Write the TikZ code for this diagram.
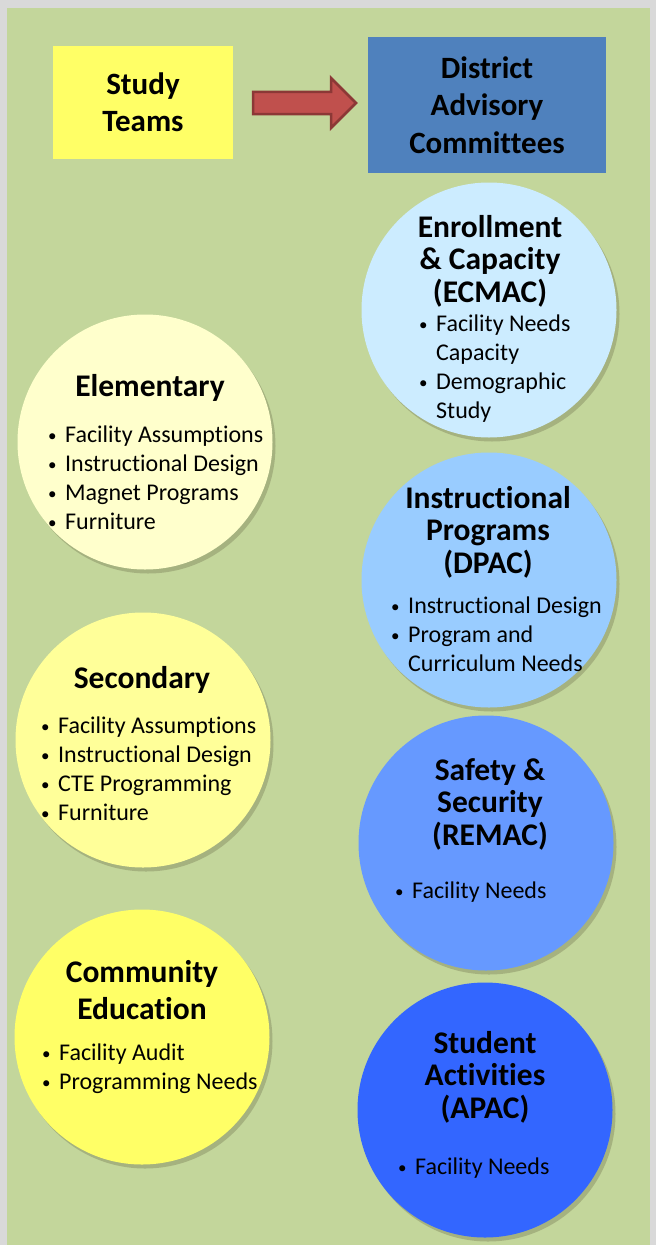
\documentclass[tikz,border=0pt]{standalone}
\usepackage{fontspec}
\setmainfont[Ligatures=NoCommon]{Carlito}
\usepackage{tikz}
\usetikzlibrary{shapes.arrows,shadows,positioning}
\definecolor{outergray}{HTML}{D9D9D9}
\definecolor{panelgreen}{HTML}{C3D69B}
\definecolor{teamyellow}{HTML}{FFFF66}
\definecolor{districtblue}{HTML}{4F81BD}
\definecolor{arrowred}{HTML}{C0504D}
\definecolor{arrowdark}{HTML}{8C3836}
\definecolor{elemfill}{HTML}{FFFFCC}
\definecolor{secfill}{HTML}{FFFF99}
\definecolor{commfill}{HTML}{FFFF66}
\definecolor{ecmacfill}{HTML}{CCECFF}
\definecolor{dpacfill}{HTML}{99CCFF}
\definecolor{remacfill}{HTML}{6699FF}
\definecolor{apacfill}{HTML}{3366FF}
\tikzset{
    %Define style for the two top boxes
    headbox/.style={
           rectangle,
           inner sep=0pt,
           font=\fontsize{31}{37.5}\selectfont\bfseries,
           align=center},
    %Define style for circles
    teamcirc/.style={
           circle,
           inner sep=0pt,
           minimum size=255pt,
           drop shadow={shadow xshift=3pt, shadow yshift=-4pt,
                        fill=black!60!olive, opacity=0.25}},
    % last line of a text sits on the given point
    ctitle/.style={
           inner sep=0pt,
           anchor=base,
           font=\fontsize{31.5}{32.5}\selectfont\bfseries,
           align=center},
    clist/.style={
           inner sep=0pt,
           anchor=base west,
           font=\fontsize{24}{29}\selectfont,
           align=left},
    % Define block arrow style
    blockarrow/.style={
           single arrow,
           fill=arrowred,
           draw=arrowdark,
           line width=2.5pt,
           minimum height=103pt,
           minimum width=50pt,
           inner sep=9pt,
           single arrow head extend=13pt}
}
\newcommand{\bul}{\makebox[17pt][l]{\fontsize{17}{17}\selectfont\raisebox{1pt}{\textbullet}}}
\newcommand{\cont}{\hspace*{17pt}}

\begin{document}
\begin{tikzpicture}[x=1pt,y=-1pt]
\useasboundingbox (0,0) rectangle (656,1245);
 %background
\fill[outergray] (0,0) rectangle (656,1245);
\fill[panelgreen] (7,8) rectangle (650,1245);
 %top boxes
\node[headbox, fill=teamyellow, minimum width=180pt, minimum height=113pt]
    (teams) at (143,102) {Study\\Teams};
\node[headbox, fill=districtblue, minimum width=238pt, minimum height=136pt]
    (district) at (487,105) {District\\Advisory\\Committees};
\node[blockarrow] (arr) at (299,103) {};
 %study teams
\node[teamcirc, fill=elemfill] (elem) at (145,442) {};
\node[ctitle] (elemt) at (150,396) {Elementary};
\node[clist] (eleml) at (48,529) {\bul Facility Assumptions\\\bul Instructional Design\\\bul Magnet Programs\\\bul Furniture};
\node[teamcirc, fill=secfill] (sec) at (143,740) {};
\node[ctitle] (sect) at (142,688) {Secondary};
\node[clist] (secl) at (41,820) {\bul Facility Assumptions\\\bul Instructional Design\\\bul CTE Programming\\\bul Furniture};
\node[teamcirc, fill=commfill] (comm) at (142,1037) {};
\node[ctitle, font=\fontsize{31.5}{37}\selectfont\bfseries] (commt) at (142,1019) {Community\\Education};
\node[clist] (comml) at (42,1089) {\bul Facility Audit\\\bul Programming Needs};
 %committees
\node[teamcirc, fill=ecmacfill] (ecmac) at (489,310) {};
\node[ctitle] (ecmact) at (490,302) {Enrollment\\\& Capacity\\(ECMAC)};
\node[clist] (ecmacl) at (419,418) {\bul Facility Needs\\\cont Capacity\\\bul Demographic\\\cont Study};
\node[teamcirc, fill=dpacfill] (dpac) at (489,580) {};
\node[ctitle] (dpact) at (488,573) {Instructional\\Programs\\(DPAC)};
\node[clist] (dpacl) at (391,671) {\bul Instructional Design\\\bul Program and\\\cont Curriculum Needs};
\node[teamcirc, fill=remacfill] (remac) at (486,843) {};
\node[ctitle] (remact) at (490,845) {Safety \&\\Security\\(REMAC)};
\node[clist] (remacl) at (395,898) {\bul Facility Needs};
\node[teamcirc, fill=apacfill] (apac) at (485,1110) {};
\node[ctitle] (apact) at (485,1118) {Student\\Activities\\(APAC)};
\node[clist] (apacl) at (398,1174) {\bul Facility Needs};
\end{tikzpicture}
\end{document}
